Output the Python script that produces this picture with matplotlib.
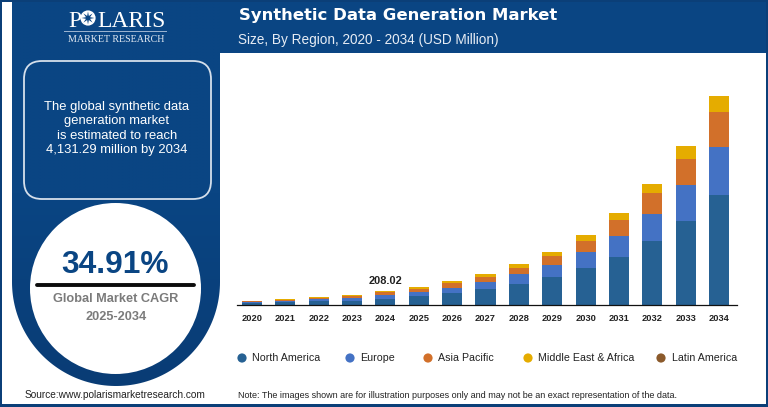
import numpy as np
import matplotlib
matplotlib.use("Agg")
import matplotlib.pyplot as plt
from matplotlib.patches import Rectangle, FancyBboxPatch, Circle, Polygon

plt.rcParams['font.family'] = ['Liberation Sans', 'DejaVu Sans']

# Data (USD million)
years = [2020, 2021, 2022, 2023, 2024, 2025, 2026, 2027, 2028, 2029, 2030, 2031, 2032, 2033, 2034]
north_america = [46, 73, 93, 93, 132, 192, 237, 322, 415, 560, 737, 955, 1271, 1667, 2188]
europe = [20, 20, 26, 53, 73, 79, 113, 144, 198, 237, 310, 421, 540, 712, 935]
asia_pacific = [14, 20, 20, 34, 53, 59, 85, 99, 132, 184, 223, 302, 401, 520, 698]
middle_east_africa = [14, 14, 20, 26, 26, 34, 40, 53, 73, 79, 125, 152, 184, 251, 322]
latin_america = [0] * 15
series_names = ["North America", "Europe", "Asia Pacific", "Middle East & Africa", "Latin America"]
series_colors = ["#266193", "#4472C4", "#D2702A", "#E5AC00", "#8B5A2B"]
callout_year = 2024
callout_text = "208.02"

W, H = 768, 407
fig = plt.figure(figsize=(W / 100, H / 100), dpi=100, facecolor="white")

# Decoration layer in pixel coordinates
bg = fig.add_axes([0, 0, 1, 1])
bg.set_xlim(0, W)
bg.set_ylim(H, 0)
bg.axis("off")

NAVY = "#0A4583"
EDGE = "#0B3F78"
grad = np.linspace(0, 1, 256).reshape(-1, 1)
cmap = matplotlib.colors.LinearSegmentedColormap.from_list("g", ["#0A4583", "#0A4583", "#093C75"])

# outer frame
bg.add_patch(Rectangle((0, 0), W, H, fc="white", ec="none", zorder=0))
for r in [(0, 0, 2, H), (0, 404, W, 3), (766, 0, 2, H), (0, 0, W, 2)]:
    bg.add_patch(Rectangle(r[:2], r[2], r[3], fc=EDGE, ec="none", zorder=5))

# header band
bg.add_patch(Rectangle((12, 2), W - 12, 51, fc=NAVY, ec="none", zorder=1))

# left panel with a rounded bottom
cx, cy, R = 116, 282, 104
theta = np.linspace(np.pi, 0, 100)
verts = [(12, 2), (12, cy)] + [(cx + R * np.cos(t), cy + R * np.sin(t)) for t in theta] + [(220, 2), (12, 2)]
panel = Polygon(verts, closed=True, fc="none", ec="none", zorder=1)
bg.add_patch(panel)
im = bg.imshow(grad, extent=(12, 220, 386, 2), cmap=cmap, aspect="auto", zorder=1)
im.set_clip_path(panel)
bg.set_xlim(0, W)
bg.set_ylim(H, 0)

# logo
bg.text(68, 27, "P", color="white", family="Liberation Serif", fontsize=17, ha="left", va="baseline", zorder=3)
bg.add_patch(Circle((88, 18), 7.6, fc="white", ec="none", zorder=3))
star_t = np.linspace(0, 2 * np.pi, 17)[:-1]
star_r = np.where(np.arange(16) % 2 == 0, 6.5, 2.2)
bg.add_patch(Polygon(np.c_[88 + star_r * np.sin(star_t), 18 - star_r * np.cos(star_t)], closed=True, fc=NAVY, ec="none", zorder=4))
bg.text(97, 27, "LARIS", color="white", family="Liberation Serif", fontsize=17, ha="left", va="baseline", zorder=3)
bg.plot([64, 166], [31, 31], color="#9FB6D2", lw=0.7, zorder=3)
bg.text(116, 39.5, "MARKET RESEARCH", color="#E4EBF3", family="Liberation Serif", fontsize=7.2, ha="center", va="center", zorder=3)

# callout box
bg.add_patch(FancyBboxPatch((24 + 18, 61 + 18), 187 - 36, 138 - 36, boxstyle="round,pad=18,rounding_size=18",
                            fc="none", ec="#D5DFEB", lw=1.3, zorder=3))
bg.text(117, 128.5, "The global synthetic data\ngeneration market\nis estimated to reach\n4,131.29 million by 2034",
        color="white", fontsize=9.4, ha="center", va="center", linespacing=1.27, zorder=3)

# CAGR circle
bg.add_patch(Circle((115.5, 288.5), 85.5, fc="white", ec="none", zorder=2))
bg.text(115, 265, "34.91%", color=NAVY, fontsize=22.8, fontweight="bold", ha="center", va="center", zorder=3)
bg.plot([37, 194], [285, 285], color="#0C0C0C", lw=2.8, solid_capstyle="round", zorder=3)
bg.text(116, 299.5, "Global Market CAGR", color="#7B7B7B", fontsize=9.2, fontweight="bold", ha="center", va="center", zorder=3)
bg.text(116, 317, "2025-2034", color="#7B7B7B", fontsize=9.2, fontweight="bold", ha="center", va="center", zorder=3)

# header text
bg.text(239, 15.5, "Synthetic Data Generation Market", color="white", family="DejaVu Sans", fontsize=11.85,
        fontweight="bold", ha="left", va="center", zorder=3)
bg.text(238, 40, "Size, By Region, 2020 - 2034 (USD Million)", color="#E6ECF4", fontsize=9.8, ha="left", va="center", zorder=3)

# footer
bg.text(25, 395, "Source:www.polarismarketresearch.com", color="#222222", fontsize=7.25, ha="left", va="center", zorder=3)
bg.text(238, 395, "Note: The images shown are for illustration purposes only and may not be an exact representation of the data.",
        color="#222222", fontsize=6.45, ha="left", va="center", zorder=3)

# Chart axes, placed to the reference plot rectangle
ax_l, ax_r, ax_b, ax_t = 237, 737, 305.3, 60
ax = fig.add_axes([ax_l / W, 1 - ax_b / H, (ax_r - ax_l) / W, (ax_b - ax_t) / H])
ax.patch.set_alpha(0)
per_px = 19.77
ax.set_ylim(0, (ax_b - ax_t) * per_px)
step = (719 - 252) / 14
ax.set_xlim(2020 - (252 - ax_l) / step, 2034 + (ax_r - 719) / step)

bottom = np.zeros(len(years))
all_series = [north_america, europe, asia_pacific, middle_east_africa, latin_america]
for vals, name, col in zip(all_series, series_names, series_colors):
    vals = np.array(vals, dtype=float)
    ax.bar(years, vals, bottom=bottom, width=0.6, color=col, label=name, linewidth=0)
    bottom += vals

for s in ["top", "right", "left"]:
    ax.spines[s].set_visible(False)
ax.spines["bottom"].set_color("#111111")
ax.spines["bottom"].set_linewidth(0.9)
ax.set_yticks([])
ax.set_xticks(years)
ax.set_xticklabels([str(y) for y in years], fontsize=6.7, fontweight="bold", color="#222222")
ax.tick_params(axis="x", length=0, pad=6)

ci = years.index(callout_year)
ax.annotate(callout_text, (callout_year, bottom[ci]), xytext=(0, 3.5), textcoords="offset points",
            ha="center", va="bottom", fontsize=7.9, fontweight="bold", color="#222222")

# Legend entries
leg_x = [242, 350, 428, 528, 661]
for name, col, x in zip(series_names, series_colors, leg_x):
    bg.add_patch(Circle((x, 358), 4.6, fc=col, ec="none", zorder=3))
    bg.text(x + 10.5, 358, name, color="#222222", fontsize=7.7, ha="left", va="center", zorder=3)

fig.savefig("out.png", dpi=100)
